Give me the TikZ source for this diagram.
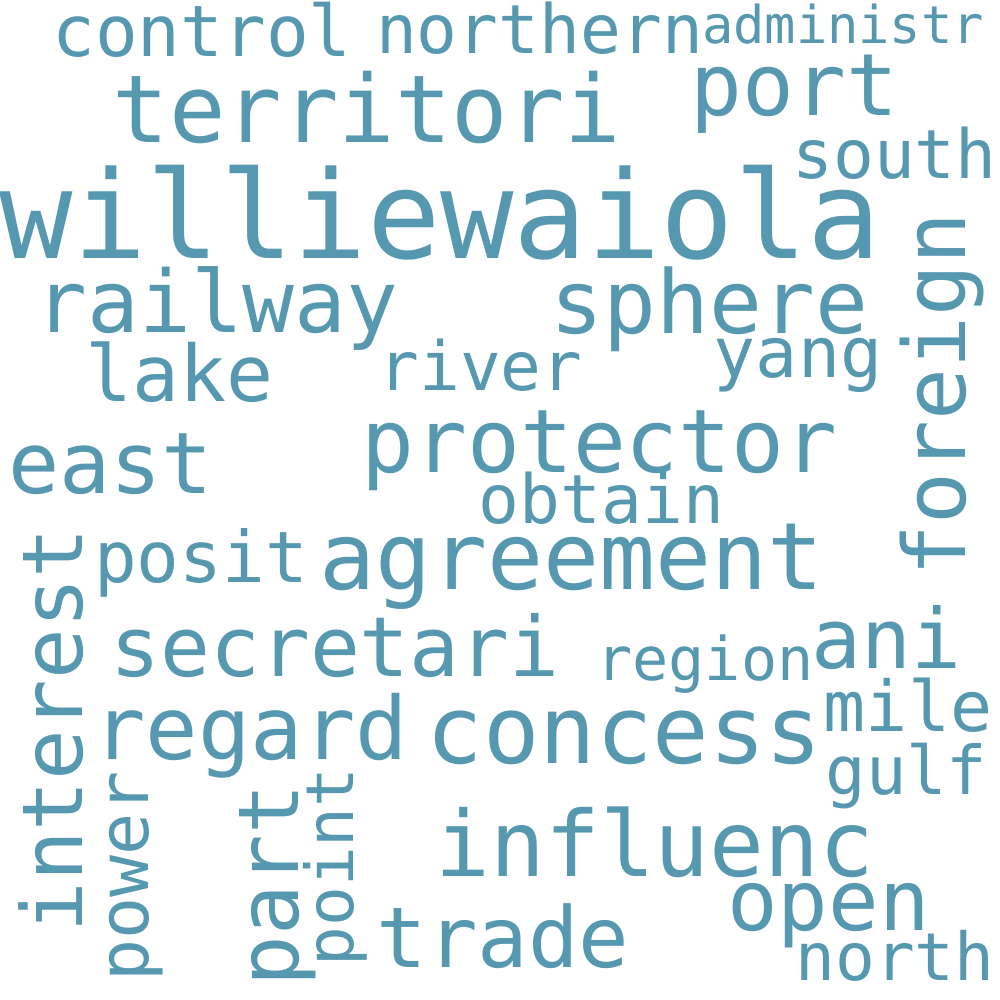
\documentclass[tikz,border=0pt]{standalone}
\usepackage{fontspec}
\usepackage{xcolor}
\usepackage{tikz}
\setmonofont{DejaVu Sans Mono}
\definecolor{wordcol}{RGB}{86,152,175}
\tikzset{
  word/.style    = { text=wordcol, inner sep=0pt, anchor=base,
                     font=\ttfamily\fontsize{#1}{#1}\selectfont },
  upword/.style  = { word=#1, rotate=90 }
}

\begin{document}
\begin{tikzpicture}[x=0.01cm,y=-0.01cm]
  \useasboundingbox (0,0) rectangle (1000,1000);
  % Draw horizontal words
  \node[word=20.2] (w_control)   at (202,56)    {control};
  \node[word=19.3] (w_northern)  at (539.5,53)  {northern};
  \node[word=14.8] (w_administr) at (843,43)    {administr};
  \node[word=26.7] (w_territori) at (367,142)   {territori};
  \node[word=34.7] (w_willie)    at (440.5,258) {williewaiola};
  \node[word=24.5] (w_port)      at (794.5,115) {port};
  \node[word=19.3] (w_south)     at (894.5,178) {south};
  \node[word=24.5] (w_railway)   at (217,332)   {railway};
  \node[word=25.0] (w_sphere)    at (709.5,333) {sphere};
  \node[word=22.2] (w_lake)      at (179.5,401) {lake};
  \node[word=19.3] (w_river)     at (480.5,390) {river};
  \node[word=19.9] (w_yang)      at (798,377)   {yang};
  \node[word=25.0] (w_protector) at (599.5,472) {protector};
  \node[word=24.2] (w_east)      at (110.5,493) {east};
  \node[word=19.3] (w_obtain)    at (601.5,523) {obtain};
  \node[word=26.5] (w_agreement) at (571.5,589) {agreement};
  \node[word=20.2] (w_posit)     at (201,582)   {posit};
  \node[word=23.6] (w_secretari) at (335,676)   {secretari};
  \node[word=17.1] (w_region)    at (705,680)   {region};
  \node[word=23.6] (w_ani)       at (886.5,668) {ani};
  \node[word=24.8] (w_regard)    at (251,759)   {regard};
  \node[word=26.7] (w_concess)   at (624.5,763) {concess};
  \node[word=19.9] (w_mile)      at (908,731)   {mile};
  \node[word=19.1] (w_gulf)      at (906.5,794) {gulf};
  \node[word=25.9] (w_influenc)  at (655,876)   {influenc};
  \node[word=23.9] (w_trade)     at (503,967)   {trade};
  \node[word=23.9] (w_open)      at (828.5,930) {open};
  \node[word=18.8] (w_north)     at (895,980)   {north};
  % Draw vertical words
  \node[upword=24.5] (w_foreign)  at (965,394.5) {foreign};
  \node[upword=23.9] (w_interest) at (82,730)    {interest};
  \node[upword=19.9] (w_power)    at (148,876.5) {power};
  \node[upword=23.9] (w_part)     at (298,885)   {part};
  \node[upword=18.8] (w_point)    at (353,867)   {point};
\end{tikzpicture}
\end{document}
